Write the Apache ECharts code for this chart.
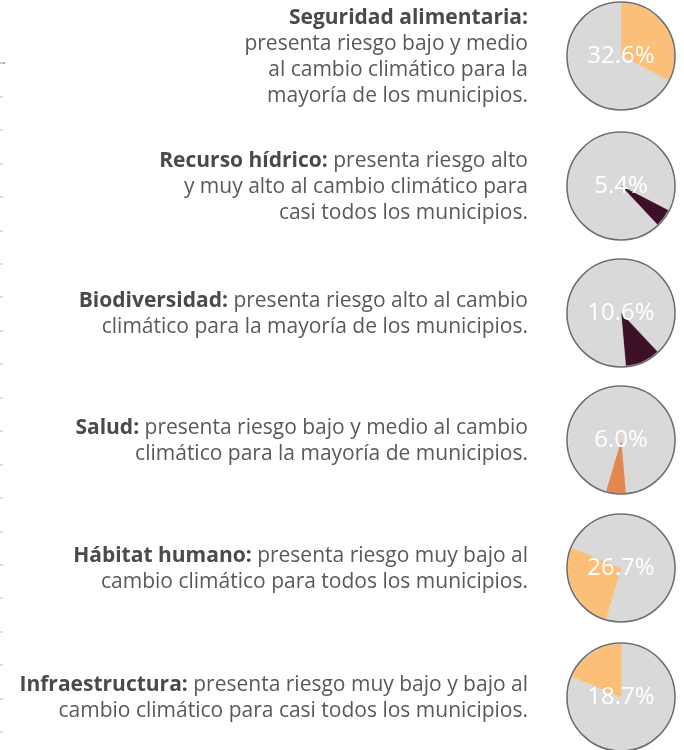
<!DOCTYPE html>
<html><head><meta charset="utf-8">
<script src="https://cdn.jsdelivr.net/npm/echarts@6/dist/echarts.min.js"></script>
<style>html,body{margin:0;padding:0;background:#fff}#c{width:684px;height:750px}</style>
</head><body><div id="c"></div>
<script>
const categories = ['Seguridad alimentaria', 'Recurso hídrico', 'Biodiversidad', 'Salud', 'Hábitat humano', 'Infraestructura'];
const values = [32.6, 5.4, 10.6, 6.0, 26.7, 18.7];
const sliceColors = ['#fbbf77', '#3d1028', '#3d1028', '#e2874d', '#fbbf77', '#fbbf77'];
const textLines = [
  ['{b|Seguridad alimentaria:}', 'presenta riesgo bajo y medio', 'al cambio climático para la', 'mayoría de los municipios.'],
  ['{b|Recurso hídrico:} presenta riesgo alto', 'y muy alto al cambio climático para', 'casi todos los municipios.'],
  ['{b|Biodiversidad:} presenta riesgo alto al cambio', 'climático para la mayoría de los municipios.'],
  ['{b|Salud:} presenta riesgo bajo y medio al cambio', 'climático para la mayoría de municipios.'],
  ['{b|Hábitat humano:} presenta riesgo muy bajo al', 'cambio climático para todos los municipios.'],
  ['{b|Infraestructura:} presenta riesgo muy bajo y bajo al', 'cambio climático para casi todos los municipios.']
];
const tickCount = 20;

const FONT = '"Open Sans", sans-serif';
const GRAY = '#d9d9d9';
const centersY = [56, 186, 313, 440, 568, 697];
const cx = 621, R = 54;
const chart = echarts.init(document.getElementById('c'));

const total = values.reduce((a, b) => a + b, 0);
const series = [];
const graphics = [];
values.forEach((v, i) => {
  const before = values.slice(0, i).reduce((a, b) => a + b, 0);
  const after = total - before - v;
  const data = [];
  if (before > 0) data.push({ value: before, name: 'antes', itemStyle: { color: GRAY, borderColor: GRAY, borderWidth: 0.5 }, label: { show: false } });
  data.push({ value: v, name: categories[i], itemStyle: { color: sliceColors[i], borderColor: sliceColors[i], borderWidth: 0.5 },
    label: { show: true, position: 'center', formatter: v.toFixed(1) + '%', color: '#ffffff', fontSize: 24, fontFamily: FONT, padding: [4, 0, 0, 0] } });
  if (after > 0.001) data.push({ value: after, name: 'después', itemStyle: { color: GRAY, borderColor: GRAY, borderWidth: 0.5 }, label: { show: false } });
  series.push({
    type: 'pie', center: [cx, centersY[i]], radius: [0, R - 1], startAngle: 90, clockwise: true,
    silent: true, animation: false, labelLine: { show: false }, data: data, z: 2
  });
  series.push({
    type: 'pie', center: [cx, centersY[i]], radius: [0, R], silent: true, animation: false,
    label: { show: false }, labelLine: { show: false }, z: 3,
    data: [{ value: 1, itemStyle: { color: 'rgba(0,0,0,0)', borderColor: '#6e6e6e', borderWidth: 1.6 } }]
  });
  graphics.push({
    type: 'text', x: 528, y: centersY[i] + 1,
    style: {
      text: textLines[i].join('\n'), align: 'right', verticalAlign: 'middle',
      fill: '#595959', fontFamily: FONT, fontSize: 21, lineHeight: 26,
      rich: { b: { fontWeight: 'bold', fill: '#4a4a4a', fontFamily: FONT, fontSize: 21, lineHeight: 26 } }
    }
  });
});
graphics.push({ type: 'line', shape: { x1: 0, y1: 63, x2: 5, y2: 63 }, style: { stroke: '#8c8c8c', lineWidth: 1.5 } });

chart.setOption({
  animation: false,
  grid: { left: 0, top: 63, bottom: 18, width: 1 },
  xAxis: { type: 'value', show: false },
  yAxis: { type: 'value', min: 0, max: tickCount, interval: 1,
    axisLine: { show: false }, axisLabel: { show: false }, splitLine: { show: false },
    axisTick: { show: true, inside: true, length: 3, lineStyle: { color: '#d4d4d4', width: 1.5 } } },
  series: series,
  graphic: graphics
});
</script></body></html>
